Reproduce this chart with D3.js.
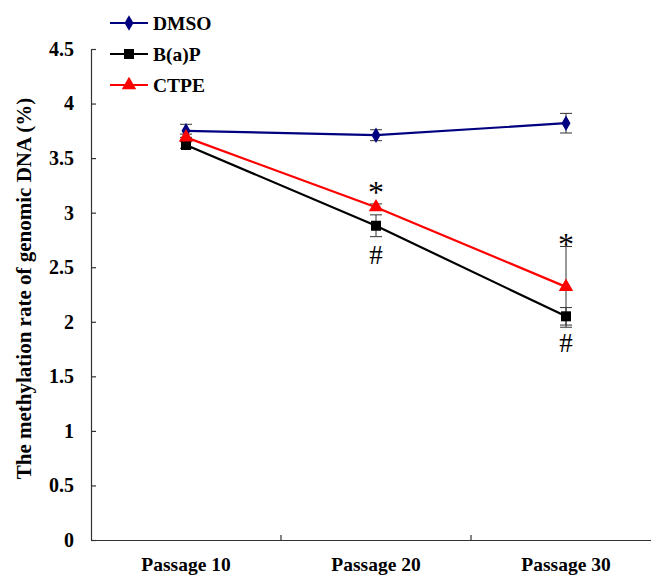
<!DOCTYPE html>
<html>
<head>
<meta charset="utf-8">
<script src="https://cdn.jsdelivr.net/npm/d3@7"></script>
<style>
  body { margin: 0; background: #fff; }
  text { font-family: "Liberation Serif", "Times New Roman", serif; }
</style>
</head>
<body>
<div id="chart"></div>
<script>
var width = 651,
  height = 576,
  plotLeft = 91,
  plotRight = 661,
  plotTop = 49,
  plotBottom = 540;

// data
var passages = ['Passage 10', 'Passage 20', 'Passage 30'];
var dmso = [3.75, 3.71, 3.82];
var dmsoErr = [0.06, 0.05, 0.09];
var bap = [3.62, 2.88, 2.05];
var bapErr = [0.03, 0.10, 0.08];
var ctpe = [3.69, 3.05, 2.32];
var ctpeErr = [0.03, 0.03, 0.37];
var yTicks = [0, 0.5, 1, 1.5, 2, 2.5, 3, 3.5, 4, 4.5];

var series = [
  { name: 'DMSO', values: dmso, err: dmsoErr, color: '#000080', marker: d3.symbolDiamond, size: 70 },
  { name: 'B(a)P', values: bap, err: bapErr, color: '#000000', marker: d3.symbolSquare, size: 100 },
  { name: 'CTPE', values: ctpe, err: ctpeErr, color: '#ff0000', marker: d3.symbolTriangle, size: 90 }
];

// significance marks: [series index, passage index, symbol, above?]
var marks = [
  [2, 1, '*', true],
  [1, 1, '#', false],
  [2, 2, '*', true],
  [1, 2, '#', false]
];

var svg = d3.select('#chart')
  .append('svg')
  .attr('width', width)
  .attr('height', height);

var xScale = d3.scaleBand()
  .domain(passages)
  .range([plotLeft, plotRight])
  .padding(0);

var yScale = d3.scaleLinear()
  .domain([0, 4.5])
  .range([plotBottom, plotTop]);

var cx = function (i) {
  return xScale(passages[i]) + xScale.bandwidth() / 2;
};

//Y axis, ticks pointing inward
var yAxis = d3.axisLeft(yScale)
  .tickValues(yTicks)
  .tickFormat(function (d) { return d; })
  .tickSizeInner(-5)
  .tickSizeOuter(0)
  .tickPadding(17);

var gy = svg.append('g')
  .attr('transform', 'translate(' + plotLeft + ',0)')
  .call(yAxis);
gy.selectAll('text')
  .style('font-size', '20px')
  .style('font-weight', 'bold')
  .attr('fill', '#000');
gy.selectAll('path, line').attr('stroke', '#333').attr('stroke-width', 1.2);

//X axis, labels only; ticks drawn on category boundaries
var xAxis = d3.axisBottom(xScale)
  .tickSize(0)
  .tickPadding(17);

var gx = svg.append('g')
  .attr('transform', 'translate(0,' + plotBottom + ')')
  .call(xAxis);
gx.selectAll('text')
  .style('font-size', '19.5px')
  .style('font-weight', 'bold')
  .attr('fill', '#000');
gx.select('.domain').attr('stroke', '#333').attr('stroke-width', 1.2);

gx.selectAll('.boundary')
  .data(passages.slice(1))
  .enter()
  .append('line')
  .attr('class', 'boundary')
  .attr('x1', function (d) { return xScale(d); })
  .attr('x2', function (d) { return xScale(d); })
  .attr('y1', 0)
  .attr('y2', -5)
  .attr('stroke', '#333')
  .attr('stroke-width', 1.2);

//Y title
svg.append('text')
  .attr('transform', 'translate(31,' + ((plotTop + plotBottom) / 2 - 6) + ') rotate(-90)')
  .attr('text-anchor', 'middle')
  .style('font-size', '21px')
  .style('font-weight', 'bold')
  .text('The methylation rate of genomic DNA (%)');

var line = d3.line()
  .x(function (d, i) { return cx(i); })
  .y(function (d) { return yScale(d); });

//Error bars
series.forEach(function (s) {
  var g = svg.append('g');
  s.values.forEach(function (v, i) {
    var x = cx(i),
      y0 = yScale(v - s.err[i]),
      y1 = yScale(v + s.err[i]);
    g.append('line')
      .attr('x1', x).attr('x2', x)
      .attr('y1', y0).attr('y2', y1)
      .attr('stroke', '#333').attr('stroke-width', 1);
    [y0, y1].forEach(function (yy) {
      g.append('line')
        .attr('x1', x - 6).attr('x2', x + 6)
        .attr('y1', yy).attr('y2', yy)
        .attr('stroke', '#333').attr('stroke-width', 1);
    });
  });
});

//Lines and markers
series.forEach(function (s) {
  svg.append('path')
    .datum(s.values)
    .attr('d', line)
    .attr('fill', 'none')
    .attr('stroke', s.color)
    .attr('stroke-width', 2.2);

  svg.selectAll(null)
    .data(s.values)
    .enter()
    .append('path')
    .attr('d', d3.symbol().type(s.marker).size(s.size))
    .attr('transform', function (d, i) {
      return 'translate(' + cx(i) + ',' + yScale(d) + ')';
    })
    .attr('fill', s.color);
});

//Significance marks
marks.forEach(function (m) {
  var s = series[m[0]],
    i = m[1],
    v = s.values[i],
    isStar = m[2] === '*';
  var y;
  if (m[3]) {
    // bottom of the star sits above the marker or the error cap
    var starBottom = Math.min(yScale(v + s.err[i]) - 1, yScale(v) - 14);
    y = starBottom + 10;
  } else {
    y = yScale(v - s.err[i]) + 27;
  }
  svg.append('text')
    .attr('x', cx(i))
    .attr('y', y)
    .attr('text-anchor', 'middle')
    .style('font-size', isStar ? '32px' : '27px')
    .text(m[2]);
});

//Legend
var legend = svg.append('g');
series.forEach(function (s, i) {
  var y = 23 + i * 31;
  legend.append('line')
    .attr('x1', 110).attr('x2', 148)
    .attr('y1', y).attr('y2', y)
    .attr('stroke', s.color)
    .attr('stroke-width', 2.2);
  legend.append('path')
    .attr('d', d3.symbol().type(s.marker).size(s.size))
    .attr('transform', 'translate(129,' + y + ')')
    .attr('fill', s.color);
  legend.append('text')
    .attr('x', 153)
    .attr('y', y + 7)
    .style('font-size', '19.5px')
    .style('font-weight', 'bold')
    .text(s.name);
});
</script>
</body>
</html>
